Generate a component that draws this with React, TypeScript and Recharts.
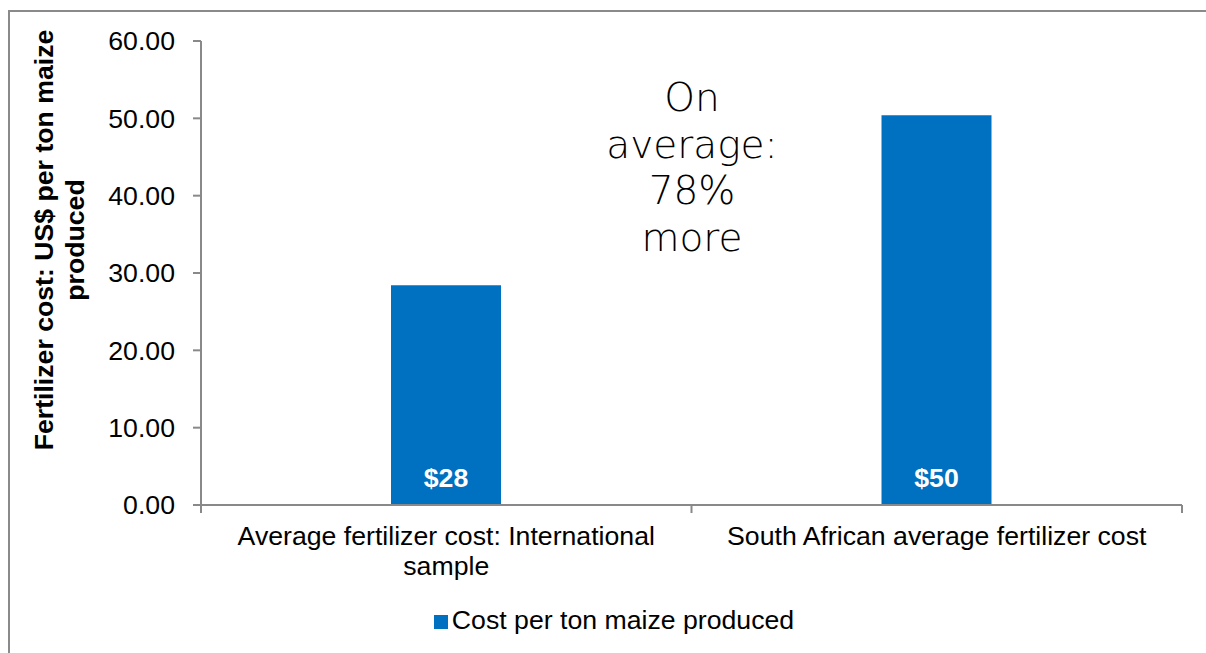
import React from "react";
import { Bar, BarChart, LabelList, Legend, XAxis, YAxis } from "recharts";

// categorias, valores e ticks
const categories = [
  "Average fertilizer cost: International sample",
  "South African average fertilizer cost",
];
const costPerTon = [28.4, 50.4];
const costLabels = ["$28", "$50"];
const yTicks = [0, 10, 20, 30, 40, 50, 60];
const seriesName = "Cost per ton maize produced";
const noteLines = ["On", "average:", "78%", "more"];

const data = categories.map((name, i) => ({
  name,
  cost: costPerTon[i],
  label: costLabels[i],
  slot: i + 0.5,
}));

const AXIS = "#898989";
const BLUE = "#0070C0";
const FONT = "'Liberation Sans', Arial, sans-serif";
const FS = 26.67;

let ctx: CanvasRenderingContext2D | null = null;

// quebra o rótulo em linhas que caibam na largura dada
function wrapWords(text: string, maxWidth: number) {
  if (!ctx) ctx = document.createElement("canvas").getContext("2d");
  if (!ctx) return [text];
  ctx.font = `${FS}px ${FONT}`;
  const lines: string[] = [];
  let cur = "";
  for (const w of text.split(" ")) {
    const next = cur ? `${cur} ${w}` : w;
    if (cur && ctx.measureText(next).width > maxWidth) {
      lines.push(cur);
      cur = w;
    } else {
      cur = next;
    }
  }
  if (cur) lines.push(cur);
  return lines;
}

function CategoryTick(props: any) {
  const { x, y, payload } = props;
  const lines = wrapWords(String(payload.value), 450);
  return (
    <text
      x={x}
      y={y + 12}
      textAnchor="middle"
      fontSize={FS}
      fontFamily={FONT}
      fill="#000"
    >
      {lines.map((l, i) => (
        <tspan key={i} x={x} dy={i === 0 ? "0.71em" : 30.5}>
          {l}
        </tspan>
      ))}
    </text>
  );
}

function EmptyTick() {
  return <g />;
}

function YTitle() {
  const cy = 240;
  return (
    <text
      transform={`translate(0 ${cy}) rotate(-90)`}
      textAnchor="middle"
      fontFamily={FONT}
      fontWeight="bold"
      fontSize={FS}
      fill="#000"
    >
      <tspan x={0} y={53}>Fertilizer cost: US$ per ton maize</tspan>
      <tspan x={0} y={84}>produced</tspan>
    </text>
  );
}

export default function App() {
  return (
    <div
      style={{
        position: "absolute",
        left: 0,
        top: 0,
        width: 1206,
        height: 653,
        overflow: "hidden",
        background: "#fff",
      }}
    >
      <div
        style={{
          position: "absolute",
          left: 8,
          top: 10,
          width: 1400,
          height: 900,
          border: "2px solid #8a8a8a",
        }}
      />
      <BarChart
        width={1206}
        height={653}
        data={data}
        margin={{ top: 41, right: 24, left: 0, bottom: 87 }}
        barCategoryGap={0}
      >
        <XAxis
          xAxisId={0}
          type="number"
          dataKey="slot"
          domain={[0, 2]}
          ticks={[0, 1, 2]}
          interval={0}
          height={1}
          tick={EmptyTick}
          tickSize={8}
          axisLine={{ stroke: AXIS, strokeWidth: 2 }}
          tickLine={{ stroke: AXIS, strokeWidth: 2 }}
        />
        <XAxis
          xAxisId={1}
          dataKey="name"
          height={60}
          interval={0}
          tickLine={false}
          axisLine={false}
          tick={<CategoryTick />}
        />
        <YAxis
          width={201}
          domain={[0, 60]}
          ticks={yTicks}
          interval={0}
          tickSize={8}
          tickMargin={18}
          tickFormatter={(v) => Number(v).toFixed(2)}
          tick={{ fontSize: FS, fontFamily: FONT, fill: "#000" }}
          tickLine={{ stroke: AXIS, strokeWidth: 2 }}
          axisLine={{ stroke: AXIS, strokeWidth: 2 }}
          label={{ content: <YTitle /> }}
        />
        <Legend
          layout="horizontal"
          verticalAlign="middle"
          align="center"
          iconType="square"
          iconSize={14}
          wrapperStyle={{ top: 605, left: 16, width: 1206, fontFamily: FONT, fontSize: FS }}
          formatter={(value) => <span style={{ color: "#000" }}>{value}</span>}
        />
        <Bar
          xAxisId={1}
          dataKey="cost"
          name={seriesName}
          fill={BLUE}
          barSize={110}
          isAnimationActive={false}
        >
          <LabelList
            dataKey="label"
            position="insideBottom"
            offset={18}
            fill="#fff"
            style={{ fontFamily: FONT, fontWeight: "bold", fontSize: FS }}
          />
        </Bar>
      </BarChart>
      <div
        style={{
          position: "absolute",
          left: 572,
          top: 75,
          width: 240,
          textAlign: "center",
          fontFamily: "'DejaVu Sans', sans-serif",
          fontWeight: 300,
          fontSize: 39,
          lineHeight: "46.5px",
          color: "#000",
        }}
      >
        {noteLines.map((l) => (
          <div key={l}>{l}</div>
        ))}
      </div>
    </div>
  );
}
